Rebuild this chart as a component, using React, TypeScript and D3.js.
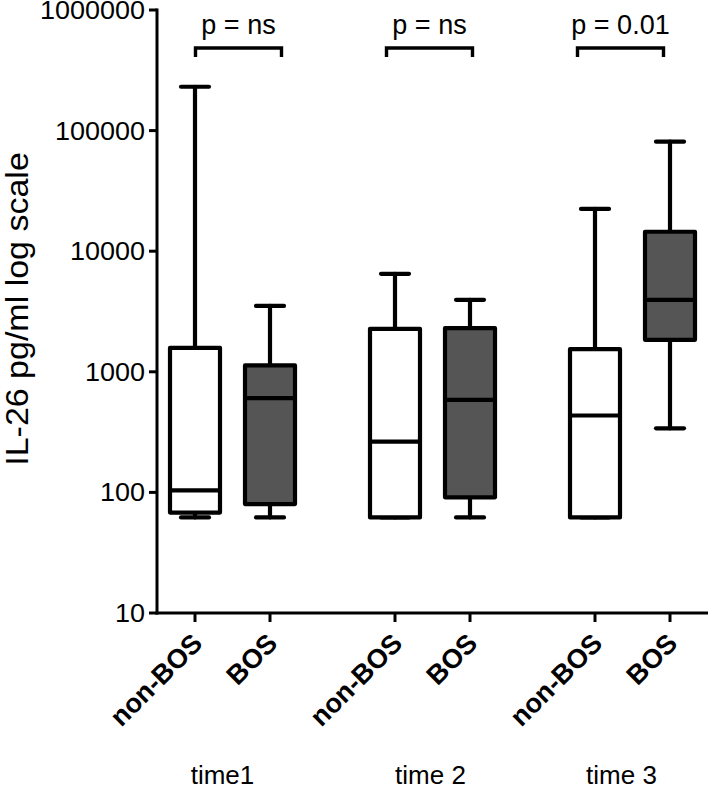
import React from 'react';
import * as d3 from 'd3';

// ---- data ----
const times = ['time1', 'time 2', 'time 3'];
const groups = ['non-BOS', 'BOS'];
const boxTime = ['time1', 'time1', 'time 2', 'time 2', 'time 3', 'time 3'];
const boxGroup = ['non-BOS', 'BOS', 'non-BOS', 'BOS', 'non-BOS', 'BOS'];
const whiskerLow = [62, 62, 62, 62, 62, 340];
const q1 = [68, 80, 62, 91, 62, 1840];
const median = [104, 605, 264, 586, 434, 3950];
const q3 = [1580, 1130, 2270, 2300, 1540, 14500];
const whiskerHigh = [231000, 3520, 6490, 3950, 22400, 81000];
const yTicks = [10, 100, 1000, 10000, 100000, 1000000];
const pLabels = ['p = ns', 'p = ns', 'p = 0.01'];

const W = 708;
const H = 800;
const FONT = '"Liberation Sans", Arial, Helvetica, sans-serif';

export default function App() {
  const axisX = 157;
  const y = d3.scaleLog().domain([10, 1000000]).range([613, 10]);
  const xg = d3.scalePoint<string>().domain(times).range([232.5, 632.5]);
  const xs = d3.scalePoint<string>().domain(groups).range([-37.5, 37.5]);
  const cx = (i: number) => (xg(boxTime[i]) as number) + (xs(boxGroup[i]) as number);

  const boxW = 50;
  const capW = 28;
  const sw = 4.2;
  const bracketHalf = 43;
  const bracketNudge = [6, -3, -12];
  const timeNudge = [-10, -2, -11];
  const bracketY = 48;

  return (
    <svg width={W} height={H} style={{ position: 'absolute', left: 0, top: 0, background: '#fff' }}
      fontFamily={FONT}>
      <rect x={0} y={0} width={W} height={H} fill="#fff" />
      {/* y axis */}
      <line x1={axisX} x2={axisX} y1={y(1000000) - 1.5} y2={y(10) + 1.5} stroke="#000" strokeWidth={3} />
      {yTicks.map((t) => (
        <g key={t}>
          <line x1={axisX - 8} x2={axisX} y1={y(t)} y2={y(t)} stroke="#000" strokeWidth={3} />
          <text transform={`translate(${axisX - 12},${y(t)}) scale(1.08,1)`} dy="0.36em" textAnchor="end"
            fontSize={25}>{t}</text>
        </g>
      ))}
      {/* x axis */}
      <line x1={axisX - 1.5} x2={W} y1={y(10)} y2={y(10)} stroke="#000" strokeWidth={3} />
      {boxGroup.map((g, i) => (
        <g key={'xt' + i}>
          <line x1={cx(i)} x2={cx(i)} y1={y(10)} y2={y(10) + 9} stroke="#000" strokeWidth={3} />
          <text transform={`translate(${cx(i) + 9},${y(10) + 32}) rotate(-45)`} textAnchor="end"
            fontSize={27} fontWeight="bold">{g}</text>
        </g>
      ))}
      {times.map((t, k) => (
        <text key={t} x={(xg(t) as number) + timeNudge[k]} y={784} textAnchor="middle" fontSize={26}>{t}</text>
      ))}
      {/* y title */}
      <text transform={`translate(28,309) rotate(-90) scale(1,0.9)`} textAnchor="middle" fontSize={34}>IL-26 pg/ml log scale</text>

      {/* boxes */}
      {boxGroup.map((g, i) => {
        const c = cx(i);
        const fill = g === 'BOS' ? '#555555' : '#ffffff';
        return (
          <g key={'b' + i} stroke="#000" strokeWidth={sw} strokeLinecap="round">
            <line x1={c} x2={c} y1={y(whiskerHigh[i])} y2={y(q3[i])} />
            <line x1={c} x2={c} y1={y(q1[i])} y2={y(whiskerLow[i])} />
            <line x1={c - capW / 2} x2={c + capW / 2} y1={y(whiskerHigh[i])} y2={y(whiskerHigh[i])} />
            <line x1={c - capW / 2} x2={c + capW / 2} y1={y(whiskerLow[i])} y2={y(whiskerLow[i])} />
            <rect x={c - boxW / 2} width={boxW} y={y(q3[i])} height={y(q1[i]) - y(q3[i])} fill={fill}
              strokeLinejoin="round" />
            <line x1={c - boxW / 2} x2={c + boxW / 2} y1={y(median[i])} y2={y(median[i])} strokeLinecap="butt" />
          </g>
        );
      })}

      {/* significance brackets */}
      {times.map((t, k) => {
        const c = (xg(t) as number) + bracketNudge[k];
        return (
          <g key={'p' + k}>
            <path d={`M${c - bracketHalf},${bracketY + 9} V${bracketY} H${c + bracketHalf} V${bracketY + 9}`}
              fill="none" stroke="#000" strokeWidth={3.4} />
            <text x={c} y={34} textAnchor="middle" fontSize={27}>{pLabels[k]}</text>
          </g>
        );
      })}
    </svg>
  );
}
